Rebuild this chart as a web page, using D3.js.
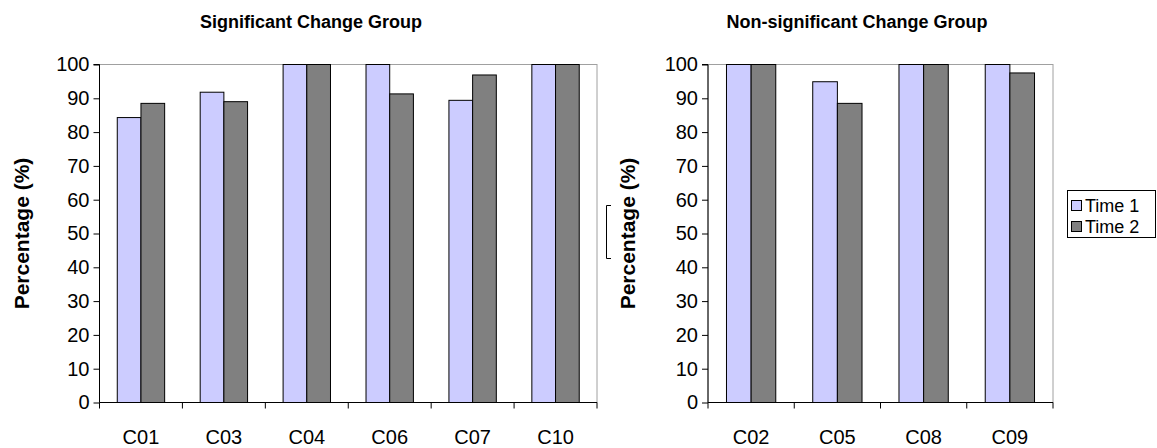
<!DOCTYPE html>
<html><head><meta charset="utf-8">
<script src="https://cdn.jsdelivr.net/npm/d3@7"></script>
<style>
body{margin:0;background:#fff;}
svg{display:block;font-family:"Liberation Sans",Arial,sans-serif;}
</style></head>
<body><svg id="c" width="1157" height="448"></svg>
<script>
const seriesNames = ["Time 1", "Time 2"];
const seriesColors = ["#CCCCFF", "#808080"];
const yTicks = [0,10,20,30,40,50,60,70,80,90,100];

const catsSig = ["C01","C03","C04","C06","C07","C10"];
const time1Sig = [84.3, 91.8, 100, 100, 89.4, 100];
const time2Sig = [88.5, 89.0, 100, 91.3, 96.9, 100];

const catsNon = ["C02","C05","C08","C09"];
const time1Non = [100, 94.9, 100, 100];
const time2Non = [100, 88.5, 100, 97.5];

const svg = d3.select("#c");

function panel(opts){
  const {cats, t1, t2, left, right, top, bottom, title, titleX, yTitleX} = opts;
  const g = svg.append("g");
  const x0 = d3.scaleBand().domain(cats).range([left, right]).paddingInner(0).paddingOuter(0);
  const x1 = d3.scaleBand().domain(seriesNames).range([0, x0.bandwidth()]).paddingInner(0).paddingOuter(0.75);
  const y = d3.scaleLinear().domain([0,100]).range([bottom, top]);

  g.append("rect").attr("x", left).attr("y", top).attr("width", right-left).attr("height", bottom-top)
    .attr("fill","none").attr("stroke","#A0A0A0").attr("stroke-width",1);

  const rows = cats.map((c,i)=>({c, vals:[t1[i], t2[i]]}));
  const grp = g.selectAll("g.grp").data(rows).join("g").attr("class","grp")
    .attr("transform", d=>`translate(${x0(d.c)},0)`);
  grp.selectAll("rect").data(d=>d.vals.map((v,k)=>({v,k}))).join("rect")
    .attr("x", d=>x1(seriesNames[d.k]))
    .attr("y", d=>y(d.v))
    .attr("width", x1.bandwidth())
    .attr("height", d=>bottom - y(d.v))
    .attr("fill", d=>seriesColors[d.k])
    .attr("stroke","#000").attr("stroke-width",1);

  const ya = g.append("g").attr("transform",`translate(${left},0)`)
    .call(d3.axisLeft(y).tickValues(yTicks).tickSize(6).tickPadding(4));
  ya.selectAll("text").attr("font-size",20).attr("fill","#000").attr("font-family","Liberation Sans, Arial, sans-serif");
  ya.selectAll("line").attr("stroke","#000");
  ya.select(".domain").attr("stroke","#000").attr("d",`M-6,${top}H0V${bottom}`);

  const xa = g.append("g").attr("transform",`translate(0,${bottom})`)
    .call(d3.axisBottom(x0).tickSize(0).tickPadding(27));
  xa.selectAll("text").attr("font-size",20).attr("fill","#000").attr("font-family","Liberation Sans, Arial, sans-serif");
  xa.select(".domain").attr("stroke","#000").attr("d",`M${left},0H${right}`);
  const bounds = cats.map(c=>x0(c)).concat([x0(cats[cats.length-1]) + x0.bandwidth()]);
  xa.selectAll("line.bt").data(bounds).join("line").attr("class","bt")
    .attr("x1",d=>d).attr("x2",d=>d).attr("y1",0).attr("y2",6).attr("stroke","#000");

  g.append("text").attr("x", titleX).attr("y", 28).attr("text-anchor","middle")
    .attr("font-weight","bold").attr("font-size",18).text(title);
  g.append("text").attr("transform",`translate(${yTitleX},${(top+bottom)/2}) rotate(-90)`)
    .attr("text-anchor","middle").attr("font-weight","bold").attr("font-size",21).text("Percentage (%)");
}

panel({cats:catsSig, t1:time1Sig, t2:time2Sig, left:99.5, right:597, top:64.5, bottom:402.5,
  title:"Significant Change Group", titleX:311, yTitleX:29});
panel({cats:catsNon, t1:time1Non, t2:time2Non, left:708, right:1053, top:64.5, bottom:402.5,
  title:"Non-significant Change Group", titleX:857, yTitleX:635});

svg.append("path").attr("d","M611,205.5H606.5V258.5H611").attr("fill","none").attr("stroke","#000").attr("stroke-width",1);

const lg = svg.append("g");
lg.append("rect").attr("x",1067.5).attr("y",190.5).attr("width",88).attr("height",47)
  .attr("fill","#fff").attr("stroke","#000");
seriesNames.forEach((s,i)=>{
  const yy = 207 + i*21;
  lg.append("rect").attr("x",1071.5).attr("y",yy-6.5).attr("width",10).attr("height",10)
    .attr("fill",seriesColors[i]).attr("stroke","#000");
  lg.append("text").attr("x",1085).attr("y",yy+5).attr("font-size",18).text(s);
});
</script></body></html>
